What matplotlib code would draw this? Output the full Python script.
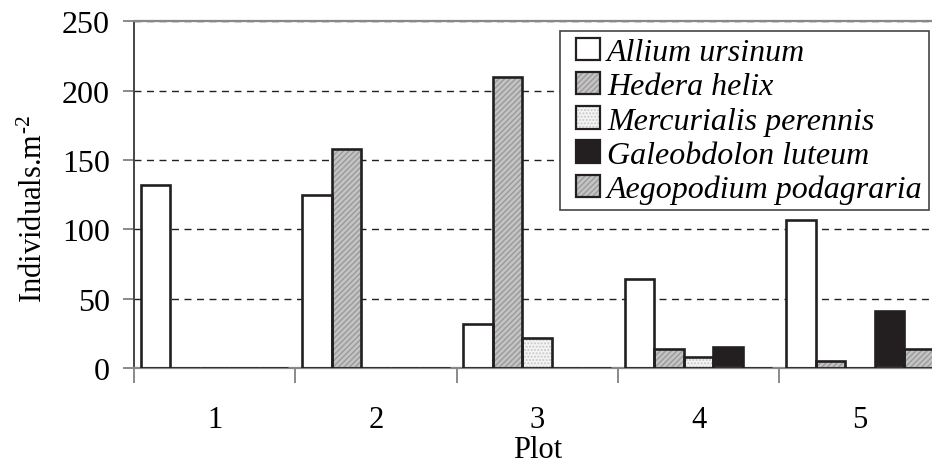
import numpy as np
import matplotlib.pyplot as plt
import matplotlib.patches as mpatches
from matplotlib.legend_handler import HandlerTuple

plt.rcParams['font.family'] = ['Liberation Serif', 'DejaVu Serif']
plt.rcParams['mathtext.fontset'] = 'stix'

plots = ['1', '2', '3', '4', '5']
species = ['Allium ursinum', 'Hedera helix', 'Mercurialis perennis',
           'Galeobdolon luteum', 'Aegopodium podagraria']
allium = [132, 125, 32, 64, 107]
hedera = [0, 158, 210, 14, 5]
mercurialis = [0, 0, 22, 8, 0]
galeobdolon = [0, 0, 0, 15, 41]
aegopodium = [0, 0, 0, 0, 14]
values = [allium, hedera, mercurialis, galeobdolon, aegopodium]

# face colour, hatch, hatch colour
styles = [
    ('white', None, 'white'),
    ('#c4c4c4', '//////', '#9a9a9a'),
    ('#f4f4f4', '.....', '#c8c8c8'),
    ('#231f20', None, '#231f20'),
    ('#c4c4c4', '//////', '#9a9a9a'),
]
edge = '#231f20'

fig = plt.figure(figsize=(9.32, 4.64), dpi=100)
ax = fig.add_axes([0.1438, 0.2047, 0.8653, 0.7473])

x = np.arange(len(plots))
width = 0.183
handles = []
for i, (vals, (fc, hatch, hc)) in enumerate(zip(values, styles)):
    pos = x + (i - 2) * width
    ax.bar(pos, vals, width, color=fc, hatch=hatch, edgecolor=hc,
           linewidth=0, zorder=2)
    ax.bar(pos, vals, width, fill=False, edgecolor=edge, linewidth=1.9,
           zorder=3)
    handles.append((mpatches.Patch(facecolor=fc, hatch=hatch, edgecolor=hc,
                                   linewidth=0),
                    mpatches.Patch(fill=False, edgecolor=edge, linewidth=1.6)))

ax.set_xlim(-0.5, 4.5)
ax.set_ylim(0, 250)
ax.set_yticks(range(0, 251, 50))
ax.yaxis.grid(True, linestyle=(0, (5, 4)), color='#231f20', linewidth=1.0)
ax.set_axisbelow(True)

ax.set_xticks(np.arange(-0.5, 4.5, 1.0))
ax.set_xticklabels([])
ax.set_xticks(x, minor=True)
ax.set_xticklabels(plots, minor=True)
ax.tick_params(axis='x', which='major', direction='out', length=11,
               width=1.2, color='#777777')
ax.tick_params(axis='x', which='minor', length=0, pad=26.5, labelsize=22)
ax.tick_params(axis='y', direction='out', length=8, width=1.2,
               color='#777777', pad=9.4, labelsize=23)

for s in ['top', 'bottom']:
    ax.spines[s].set_color('#888888')
    ax.spines[s].set_linewidth(1.6)
ax.spines['left'].set_color('#444444')
ax.spines['left'].set_linewidth(1.4)
ax.spines['right'].set_visible(False)

ax.set_xlabel('Plot', fontsize=22, labelpad=1)
ax.set_ylabel('Individuals.m$^{\\mathregular{\u20102}}$', fontsize=22)
ax.yaxis.set_label_coords(-0.105, 0.46)

leg = ax.legend(handles, species, loc='upper left',
                bbox_to_anchor=(0.601, 0.93), bbox_transform=fig.transFigure,
                handler_map={tuple: HandlerTuple(ndivide=1, xpad=0.3)},
                prop={'family': 'Liberation Serif', 'style': 'italic',
                      'size': 23},
                frameon=True, fancybox=False, edgecolor='#444444',
                framealpha=1, borderpad=0.2, labelspacing=0.15,
                handlelength=1.05, handleheight=0.7, handletextpad=0.22,
                borderaxespad=0)
leg.get_frame().set_linewidth(1.2)

fig.savefig('out.png', dpi=100)
